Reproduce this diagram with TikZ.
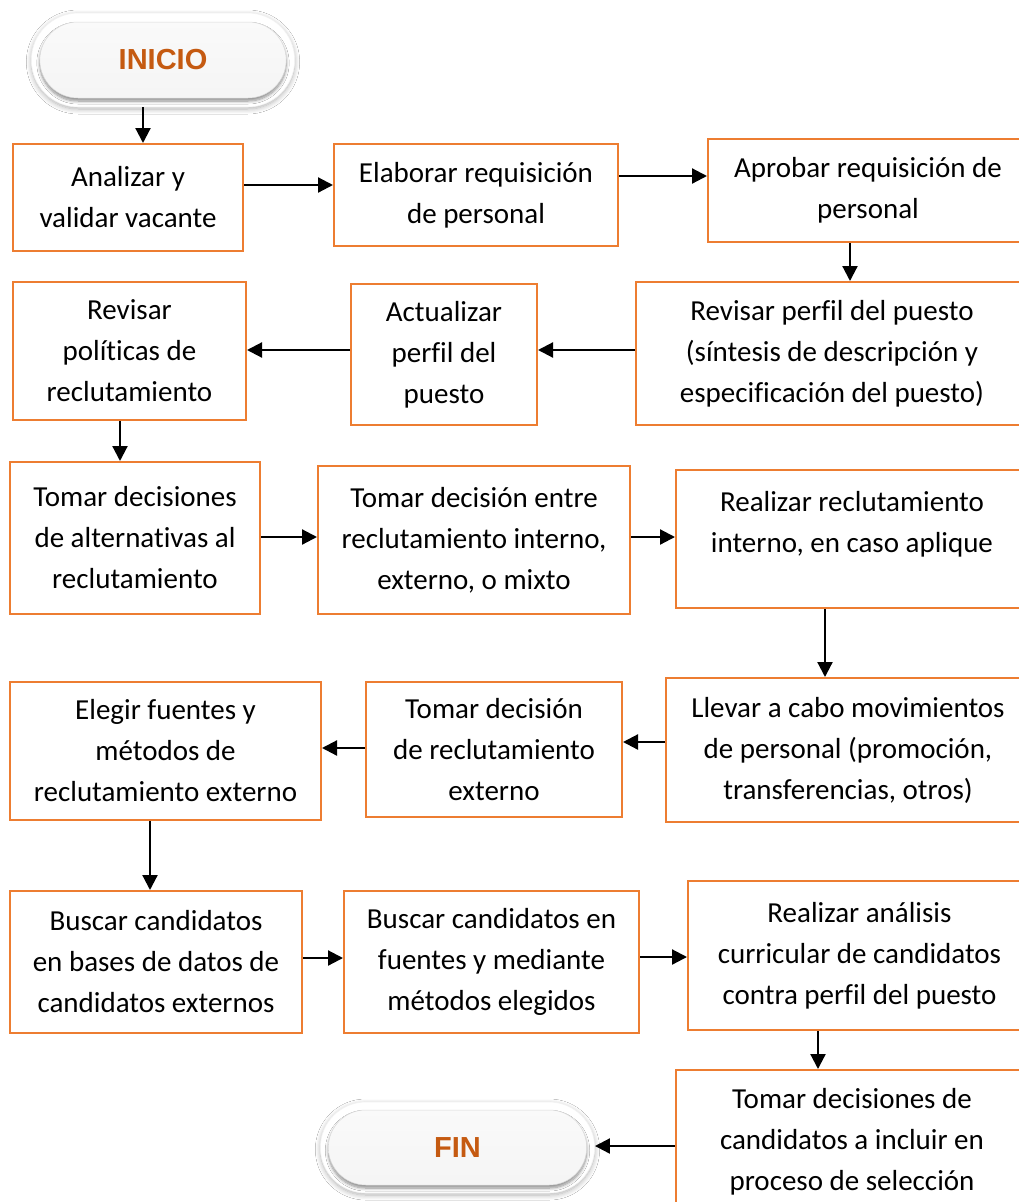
\documentclass[tikz,border=0pt]{standalone}
\usepackage{fontspec}
\setmainfont{Carlito}[Ligatures={NoCommon}]
\newfontfamily\pillfont{Liberation Sans}
\usetikzlibrary{arrows.meta,shapes.misc,shadows.blur}
\definecolor{boxorange}{HTML}{ED7D31}
\definecolor{pilltext}{HTML}{C55A11}
\tikzset{
  box/.style={draw=boxorange, line width=2pt, fill=white, align=center,
    inner sep=0pt, font=\fontsize{29}{41}\selectfont},
  arr/.style={line width=2.2pt, -{Triangle[length=15pt,width=15pt]}},
  pillouter/.style={rounded rectangle, fill=white, draw=gray!10, line width=0.6pt,
    blur shadow={shadow xshift=0pt, shadow yshift=-2pt, shadow opacity=30,
      shadow blur steps=10, shadow blur radius=5pt}},
  pillinner/.style={rounded rectangle, draw=gray!30, line width=0.5pt,
    top color=gray!4, bottom color=gray!8,
    blur shadow={shadow xshift=0pt, shadow yshift=-3pt, shadow opacity=45,
      shadow blur steps=8, shadow blur radius=3pt},
    font=\pillfont\bfseries\fontsize{29}{34}\selectfont, text=pilltext},
}
\begin{document}
\begin{tikzpicture}[x=1pt, y=-1pt]
\clip (0,0) rectangle (1019,1202);
\fill[white] (0,0) rectangle (1019,1202);

% start and end terminals
\node[pillouter, minimum width=270pt, minimum height=94pt] (ini) at (163,60) {};
\node[pillinner, minimum width=253pt, minimum height=76pt] (iniin) at (163,60) {INICIO};
\node[pillouter, minimum width=281pt, minimum height=91pt] (fin) at (457.5,1147.5) {};
\node[pillinner, minimum width=265pt, minimum height=75pt] (finin) at (457.5,1147.5) {FIN};

% process steps
\node[box, minimum width=230pt, minimum height=107pt] (A) at (128,197.5) {Analizar y\\validar vacante};
\node[box, minimum width=284pt, minimum height=102pt] (B) at (476,195) {Elaborar requisición\\de personal};
\node[box, minimum width=320pt, minimum height=103pt] (C) at (868,190.5) {Aprobar requisición de\\personal};
\node[box, minimum width=392pt, minimum height=143pt] (D) at (832,353.5) {Revisar perfil del puesto\\(síntesis de descripción y\\especificación del puesto)};
\node[box, minimum width=186pt, minimum height=141pt] (E) at (444,354.5) {Actualizar\\perfil del\\puesto};
\node[box, minimum width=233pt, minimum height=138pt] (F) at (129.5,351) {Revisar\\políticas de\\reclutamiento};
\node[box, minimum width=250pt, minimum height=152pt] (G) at (135,538) {Tomar decisiones\\de alternativas al\\reclutamiento};
\node[box, minimum width=312pt, minimum height=148pt] (H) at (474,540) {Tomar decisión entre\\reclutamiento interno,\\externo, o mixto};
\node[box, minimum width=352pt, minimum height=138pt,
  label={[align=center, font=\fontsize{29}{41}\selectfont, yshift=15pt]center:Realizar reclutamiento\\interno, en caso aplique}] (I) at (852,539) {};
\node[box, minimum width=364pt, minimum height=144pt] (J) at (848,750) {Llevar a cabo movimientos\\de personal (promoción,\\transferencias, otros)};
\node[box, minimum width=256pt, minimum height=135pt] (K) at (494,749.5) {Tomar decisión\\de reclutamiento\\externo};
\node[box, minimum width=311pt, minimum height=138pt] (L) at (165.5,751) {Elegir fuentes y\\métodos de\\reclutamiento externo};
\node[box, minimum width=292pt, minimum height=142pt] (M) at (156,962) {Buscar candidatos\\en bases de datos de\\candidatos externos};
\node[box, minimum width=295pt, minimum height=142pt] (N) at (491.5,962) {Buscar candidatos en\\fuentes y mediante\\métodos elegidos};
\node[box, minimum width=343pt, minimum height=149pt] (O) at (859.5,955.5) {Realizar análisis\\curricular de candidatos\\contra perfil del puesto};
\node[box, minimum width=352pt, minimum height=144pt] (P) at (852,1142) {Tomar decisiones de\\candidatos a incluir en\\proceso de selección};

% connectors
\draw[arr] ([xshift=-20pt]ini.south) -- ([xshift=15pt]A.north);
\draw[arr] ([yshift=12.5pt]A.east) -- ([yshift=10pt]B.west);
\draw[arr] ([yshift=19pt]B.east) -- ([yshift=14.5pt]C.west);
\draw[arr] ([xshift=-18pt]C.south) -- ([xshift=18pt]D.north);
\draw[arr] ([yshift=3.5pt]D.west) -- ([yshift=4.5pt]E.east);
\draw[arr] ([yshift=4.5pt]E.west) -- ([yshift=1pt]F.east);
\draw[arr] ([xshift=-9.5pt]F.south) -- ([xshift=-15pt]G.north);
\draw[arr] ([yshift=1pt]G.east) -- ([yshift=3pt]H.west);
\draw[arr] ([yshift=3pt]H.east) -- ([yshift=2pt]I.west);
\draw[arr] ([xshift=-27pt]I.south) -- ([xshift=-23pt]J.north);
\draw[arr] ([yshift=8pt]J.west) -- ([yshift=7.5pt]K.east);
\draw[arr] ([yshift=1.5pt]K.west) -- ([yshift=3pt]L.east);
\draw[arr] ([xshift=-15.5pt]L.south) -- ([xshift=-6pt]M.north);
\draw[arr] ([yshift=4pt]M.east) -- ([yshift=4pt]N.west);
\draw[arr] ([yshift=5pt]N.east) -- ([yshift=-1.5pt]O.west);
\draw[arr] ([xshift=-41.5pt]O.south) -- ([xshift=-34pt]P.north);
\draw[arr] ([yshift=-4pt]P.west) -- ([yshift=1.5pt]fin.east);
\end{tikzpicture}
\end{document}
